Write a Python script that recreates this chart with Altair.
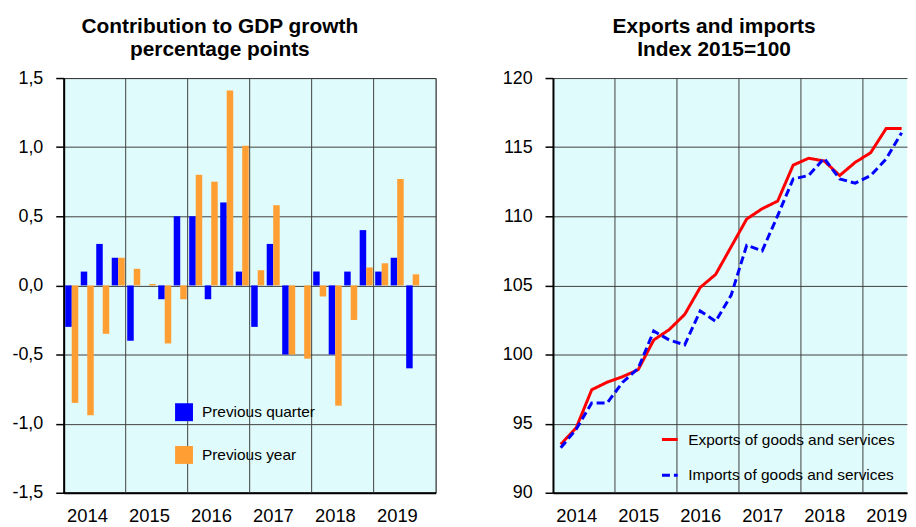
import altair as alt
import pandas as pd

# ---------------- data ----------------
quarters = ["2014Q1", "2014Q2", "2014Q3", "2014Q4",
            "2015Q1", "2015Q2", "2015Q3", "2015Q4",
            "2016Q1", "2016Q2", "2016Q3", "2016Q4",
            "2017Q1", "2017Q2", "2017Q3", "2017Q4",
            "2018Q1", "2018Q2", "2018Q3", "2018Q4",
            "2019Q1", "2019Q2", "2019Q3"]
years = ["2014", "2015", "2016", "2017", "2018", "2019"]

prev_quarter = [-0.30, 0.10, 0.30, 0.20,
                -0.40, 0.00, -0.10, 0.50,
                0.50, -0.10, 0.60, 0.10,
                -0.30, 0.30, -0.50, 0.00,
                0.10, -0.50, 0.10, 0.40,
                0.10, 0.20, -0.60]
prev_year = [-0.85, -0.94, -0.35, 0.20,
             0.12, 0.01, -0.42, -0.10,
             0.80, 0.75, 1.41, 1.01,
             0.11, 0.58, -0.50, -0.53,
             -0.08, -0.87, -0.25, 0.13,
             0.16, 0.77, 0.08]

exports = [93.5, 94.7, 97.45, 98.0,
           98.4, 98.9, 101.05, 101.8,
           102.9, 104.85, 105.8, 107.8,
           109.8, 110.55, 111.1, 113.7,
           114.2, 114.0, 112.95, 113.9,
           114.6, 116.35, 116.35]
imports = [93.25, 94.6, 96.5, 96.5,
           98.0, 99.0, 101.7, 101.05,
           100.7, 103.15, 102.4, 104.3,
           107.9, 107.5, 110.05, 112.7,
           112.95, 114.2, 112.7, 112.4,
           112.95, 114.15, 116.05]

bar_series = ["Previous quarter", "Previous year"]
line_series = ["Exports of goods and services", "Imports of goods and services"]

# ---------------- styling ----------------
FONT = "Liberation Sans"
BG = "#e0fbfb"
GRID = "#404040"
W, H = 374, 417
W_RIGHT = 356               # right panel is cut by the page edge, as in the reference
n_slots = 4 * len(years)

df = pd.DataFrame({
    "quarter": quarters,
    "idx": list(range(len(quarters))),
    bar_series[0]: prev_quarter,
    bar_series[1]: prev_year,
    line_series[0]: exports,
    line_series[1]: imports,
})

label_pos = [4 * k + 1.5 for k in range(len(years))]
year_expr = "[" + ",".join(f"'{y}'" for y in years) + "][floor(datum.value / 4)]"

x_axis = alt.Axis(values=label_pos, labelExpr=year_expr, grid=False, ticks=False,
                  domainColor="black", domainWidth=2, labelPadding=14, title=None,
                  labelFontSize=18.5, labelFont=FONT, labelColor="black")
x_scale_left = alt.Scale(domain=[0, n_slots], nice=False, zero=False)
x_scale_right = alt.Scale(domain=[0, n_slots * W_RIGHT / W], nice=False, zero=False)


def y_axis(vals, expr, extent):
    return alt.Axis(values=vals, labelExpr=expr, grid=True, gridColor=GRID, gridWidth=1,
                    gridOpacity=1, tickSize=8, tickColor="black", tickWidth=1.5,
                    domainColor="black", domainWidth=2, labelPadding=13,
                    minExtent=extent, maxExtent=extent, title=None, labelFontSize=18,
                    labelFont=FONT, labelColor="black")


base = alt.Chart(df)


def vgrid(scale):
    return base.transform_filter("datum.idx % 4 == 0 && datum.idx > 0").mark_rule(
        color=GRID, strokeWidth=1).encode(x=alt.X("idx:Q", scale=scale, axis=x_axis))


# ---------------- left chart ----------------
left_y_expr = "replace((datum.value < 0 ? '-' : '') + format(abs(datum.value), '.1f'), '.', ',')"

bars = base.transform_fold(bar_series, as_=["series", "value"]).transform_calculate(
    x0="datum.idx + (datum.series == 'Previous quarter' ? 0.1 : 0.52)",
    x1="datum.idx + (datum.series == 'Previous quarter' ? 0.52 : 0.94)",
).mark_bar().encode(
    x=alt.X("x0:Q", scale=x_scale_left, axis=x_axis),
    x2="x1:Q",
    y=alt.Y("value:Q", scale=alt.Scale(domain=[-1.5, 1.5], nice=False),
            axis=y_axis([-1.5, -1.0, -0.5, 0.0, 0.5, 1.0, 1.5], left_y_expr, 55)),
    y2=alt.datum(0),
    color=alt.Color("series:N",
                    scale=alt.Scale(domain=bar_series, range=["#0000ff", "#ff9e33"]),
                    legend=alt.Legend(orient="none", legendX=112, legendY=327, title=None,
                                      symbolType="square", symbolSize=324,
                                      symbolStrokeWidth=0, labelFontSize=15.5,
                                      labelFont=FONT, labelColor="black", labelLimit=300,
                                      labelOffset=9, rowPadding=25, padding=0)),
)

left = alt.layer(vgrid(x_scale_left), bars).properties(
    width=W, height=H,
    view=alt.ViewBackground(fill=BG, stroke="black", strokeWidth=1),
    title=alt.TitleParams(["Contribution to GDP growth", "percentage points"],
                          fontSize=21, fontWeight="bold", font=FONT, lineHeight=23,
                          anchor="middle", offset=9, dx=-30, color="black"),
)

# ---------------- right chart ----------------
line_legend = alt.Legend(orient="none", legendX=108, legendY=354, title=None,
                         symbolType="stroke", symbolSize=250, symbolStrokeWidth=3,
                         labelFontSize=15.5, labelFont=FONT, labelColor="black",
                         labelLimit=300, labelOffset=9, rowPadding=18, padding=0)

lines = base.transform_fold(line_series, as_=["series", "value"]).transform_calculate(
    xc="datum.idx + 0.5"
).mark_line(strokeWidth=3).encode(
    x=alt.X("xc:Q", scale=x_scale_right, axis=x_axis),
    y=alt.Y("value:Q", scale=alt.Scale(domain=[90, 120], nice=False, zero=False),
            axis=y_axis([90, 95, 100, 105, 110, 115, 120], "format(datum.value, 'd')", 50)),
    color=alt.Color("series:N",
                    scale=alt.Scale(domain=line_series, range=["#ff0000", "#0000ff"]),
                    legend=line_legend),
    strokeDash=alt.StrokeDash("series:N",
                              scale=alt.Scale(domain=line_series, range=[[1, 0], [8, 4]]),
                              legend=line_legend),
    order="idx:Q",
)

right = alt.layer(vgrid(x_scale_right), lines).properties(
    width=W_RIGHT, height=H,
    view=alt.ViewBackground(fill=BG, stroke=None),
    title=alt.TitleParams(["Exports and imports", "Index 2015=100"],
                          fontSize=21, fontWeight="bold", font=FONT, lineHeight=23,
                          anchor="middle", offset=9, dx=-16, color="black"),
)

chart = alt.hconcat(left, right, spacing=65).resolve_scale(
    color="independent", strokeDash="independent", x="independent"
).properties(
    padding={"left": 0, "top": 6, "right": 0, "bottom": 0}
).configure_view(
    fill=BG, stroke="black", strokeWidth=1
).configure(background="white")

chart.save("out.html", embed_options={"renderer": "svg", "actions": False})
